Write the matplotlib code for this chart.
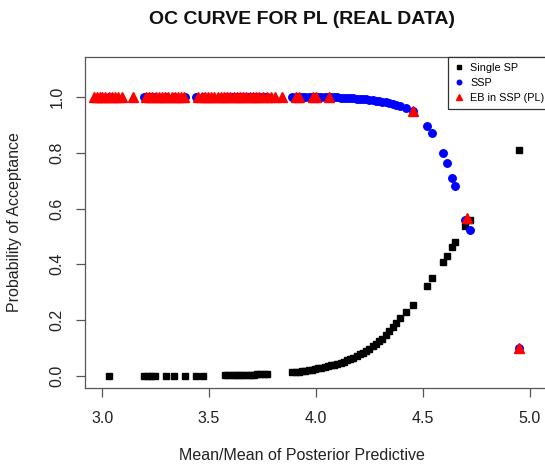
import numpy as np
import matplotlib
matplotlib.use("Agg")
import matplotlib.pyplot as plt

plt.rcParams['font.family'] = ['Liberation Sans', 'DejaVu Sans']

# x grid shared by Single SP and SSP
sp_x = [3.03, 3.195, 3.215, 3.23, 3.248, 3.30, 3.336, 3.388, 3.44, 3.47,
        3.575, 3.59, 3.605, 3.62, 3.635, 3.65, 3.665, 3.68, 3.695, 3.71,
        3.725, 3.74, 3.755, 3.77,
        3.89, 3.905, 3.92, 3.935, 3.95, 3.965, 3.98, 3.995, 4.01, 4.025,
        4.04, 4.055, 4.07, 4.085, 4.10, 4.115, 4.13, 4.145, 4.16, 4.175,
        4.19, 4.205, 4.22, 4.235, 4.25, 4.265, 4.28, 4.295, 4.31, 4.325,
        4.343, 4.36, 4.375, 4.393, 4.42, 4.452,
        4.517, 4.542, 4.592, 4.612, 4.638, 4.65, 4.696, 4.718, 4.95]

single_sp = [0.0, 0.0, 0.0, 0.0, 0.0, 0.0, 0.0, 0.0, 0.0, 0.0,
             0.001, 0.001, 0.002, 0.002, 0.002, 0.003, 0.003, 0.003, 0.004, 0.004,
             0.005, 0.005, 0.006, 0.008,
             0.013, 0.014, 0.015, 0.017, 0.018, 0.020, 0.022, 0.024, 0.026, 0.028,
             0.031, 0.034, 0.037, 0.040, 0.043, 0.047, 0.051, 0.056, 0.060, 0.065,
             0.071, 0.077, 0.083, 0.090, 0.097, 0.105, 0.114, 0.123, 0.133, 0.146,
             0.160, 0.175, 0.190, 0.206, 0.227, 0.255,
             0.322, 0.350, 0.407, 0.429, 0.462, 0.481, 0.539, 0.560, 0.809]

ssp = [1.0, 1.0, 1.0, 1.0, 1.0, 1.0, 1.0, 1.0, 1.0, 1.0,
       1.0, 1.0, 1.0, 1.0, 1.0, 1.0, 1.0, 1.0, 1.0, 1.0,
       1.0, 1.0, 1.0, 1.0,
       1.0, 1.0, 1.0, 1.0, 1.0, 1.0, 1.0, 1.0, 1.0, 1.0,
       1.0, 1.0, 0.999, 0.999, 0.999, 0.998, 0.998, 0.997, 0.997, 0.996,
       0.995, 0.994, 0.993, 0.992, 0.991, 0.989, 0.987, 0.985, 0.983, 0.981,
       0.978, 0.976, 0.972, 0.968, 0.960, 0.949,
       0.898, 0.871, 0.799, 0.763, 0.711, 0.680, 0.560, 0.524, 0.100]

# EB in SSP (PL)
eb_x = [2.96, 2.975, 2.99, 3.00, 3.015, 3.03, 3.045, 3.06, 3.075, 3.095, 3.145,
        3.205, 3.22, 3.235, 3.25, 3.265, 3.28, 3.295, 3.31, 3.325, 3.34, 3.355, 3.37, 3.385,
        3.45, 3.465, 3.48, 3.495, 3.51, 3.525, 3.54, 3.555, 3.57, 3.585, 3.60, 3.615,
        3.63, 3.645, 3.66, 3.675, 3.69, 3.705, 3.72, 3.735, 3.75, 3.77, 3.79, 3.81, 3.84,
        3.905, 3.92, 3.985, 4.0, 4.06,
        4.452, 4.704, 4.95]
eb = [1.0] * 54 + [0.95, 0.567, 0.10]

xticks = [3.0, 3.5, 4.0, 4.5, 5.0]
yticks = [0.0, 0.2, 0.4, 0.6, 0.8, 1.0]

W, H = 545, 467
fig = plt.figure(figsize=(W / 100, H / 100), dpi=100)
ax = fig.add_axes([85 / W, (H - 388) / H, 462 / W, 331 / H])

ax.plot(sp_x, single_sp, ls='none', marker='s', ms=5.0, color='black', label='Single SP')
ax.plot(sp_x, ssp, ls='none', marker='o', ms=5.4, color='blue', mec='blue', label='SSP')
ax.plot(eb_x, eb, ls='none', marker='^', ms=6.6, color='red', mec='red', label='EB in SSP (PL)')

ax.set_xlim(2.92, 5.08)
ax.set_ylim(-0.044, 1.144)
ax.set_xticks(xticks)
ax.set_xticklabels(['%.1f' % t for t in xticks])
ax.set_yticks(yticks)
ax.set_yticklabels(['%.1f' % t for t in yticks], rotation=90, va='center')
ax.tick_params(axis='both', length=6.5, width=0.9, color='#555555', labelsize=11.5,
               labelcolor='#222222')
ax.tick_params(axis='x', pad=10)
ax.tick_params(axis='y', pad=8)
for s in ax.spines.values():
    s.set_color('#555555')
    s.set_linewidth(0.9)

leg = ax.legend(loc='upper left', bbox_to_anchor=(448 / W, 1 - 57 / H),
                bbox_transform=fig.transFigure, borderaxespad=0, fontsize=7.8,
                fancybox=False, framealpha=1, edgecolor='#333333', markerscale=0.6,
                handlelength=1.0, handletextpad=0.5, labelspacing=0.45, borderpad=0.55)
leg.get_frame().set_linewidth(0.9)

fig.text(302 / W, 1 - 20 / H, 'OC CURVE FOR PL (REAL DATA)', ha='center', va='center',
         fontsize=14, fontweight='bold', color='#111111')
fig.text(302 / W, 1 - 455 / H, 'Mean/Mean of Posterior Predictive', ha='center', va='center',
         fontsize=11.5, color='#222222')
fig.text(15 / W, 1 - 222 / H, 'Probability of Acceptance', ha='center', va='center',
         rotation=90, fontsize=11.5, color='#222222')

fig.savefig('out.png', dpi=100)
